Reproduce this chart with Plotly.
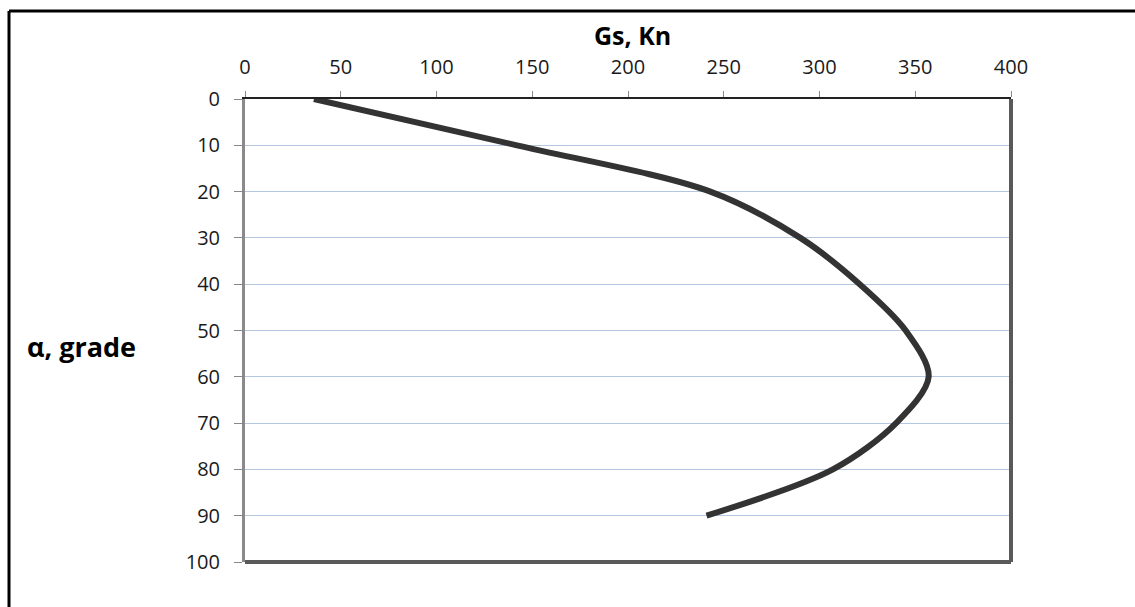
import plotly.graph_objects as go

# Data
alpha = [0, 10, 20, 30, 40, 50, 60, 70, 80, 90]
gs = [36, 142, 243, 290, 321, 345, 357, 340, 307, 241]

x_ticks = [0, 50, 100, 150, 200, 250, 300, 350, 400]
y_ticks = [0, 10, 20, 30, 40, 50, 60, 70, 80, 90, 100]

W, H = 1135, 607
L, R, T, B = 245, 1011, 99, 562

FONT = "Open Sans"

fig = go.Figure()
fig.add_trace(go.Scatter(
    x=gs, y=alpha, mode="lines",
    line=dict(color="#333333", width=6, shape="spline", smoothing=0.9),
    showlegend=False, hoverinfo="skip", cliponaxis=False,
))

fig.update_layout(
    width=W, height=H,
    margin=dict(l=L, r=W - R, t=T, b=H - B),
    paper_bgcolor="white", plot_bgcolor="white",
    font=dict(family=FONT, size=20, color="#1a1a1a"),
    xaxis=dict(
        side="top", range=[0, 400], tickvals=x_ticks,
        showgrid=False, zeroline=False,
        showline=True, linecolor="#222222", linewidth=2,
        ticks="outside", ticklen=6, tickcolor="#888888", tickwidth=1,
        ticklabelstandoff=9,
    ),
    yaxis=dict(
        range=[100, 0], tickvals=y_ticks,
        showgrid=True, gridcolor="#B4C6E0", gridwidth=1.2,
        zeroline=False,
        showline=True, linecolor="#8a8a8a", linewidth=3,
        ticks="outside", ticklen=8, tickcolor="#888888", tickwidth=1,
        ticklabelstandoff=10,
    ),
)

def px_to_paper_x(px):
    return (px - L) / (R - L)

def px_to_paper_y(py):
    return (B - py) / (B - T)

# right and bottom plot frame
fig.add_shape(type="line", xref="paper", yref="paper",
              x0=1, x1=1, y0=0, y1=1, line=dict(color="#595959", width=4))
fig.add_shape(type="line", xref="paper", yref="paper",
              x0=0, x1=1, y0=0, y1=0, line=dict(color="#595959", width=4))

# outer chart border (top and left visible)
fig.add_shape(type="line", xref="paper", yref="paper",
              x0=px_to_paper_x(9), x1=px_to_paper_x(1140),
              y0=px_to_paper_y(11), y1=px_to_paper_y(11),
              line=dict(color="black", width=3))
fig.add_shape(type="line", xref="paper", yref="paper",
              x0=px_to_paper_x(9), x1=px_to_paper_x(9),
              y0=px_to_paper_y(11), y1=px_to_paper_y(612),
              line=dict(color="black", width=3))

# axis titles
fig.add_annotation(text="<b>Gs, Kn</b>", xref="paper", yref="paper",
                   x=px_to_paper_x(632), y=px_to_paper_y(35),
                   showarrow=False, font=dict(family=FONT, size=25, color="black"),
                   xanchor="center", yanchor="middle")
fig.add_annotation(text="<b>α, grade</b>", xref="paper", yref="paper",
                   x=px_to_paper_x(81), y=px_to_paper_y(346),
                   showarrow=False, font=dict(family=FONT, size=27, color="black"),
                   xanchor="center", yanchor="middle")

fig.write_html("out.html", config={"displayModeBar": False},
               post_script="document.body.style.margin='0';")
